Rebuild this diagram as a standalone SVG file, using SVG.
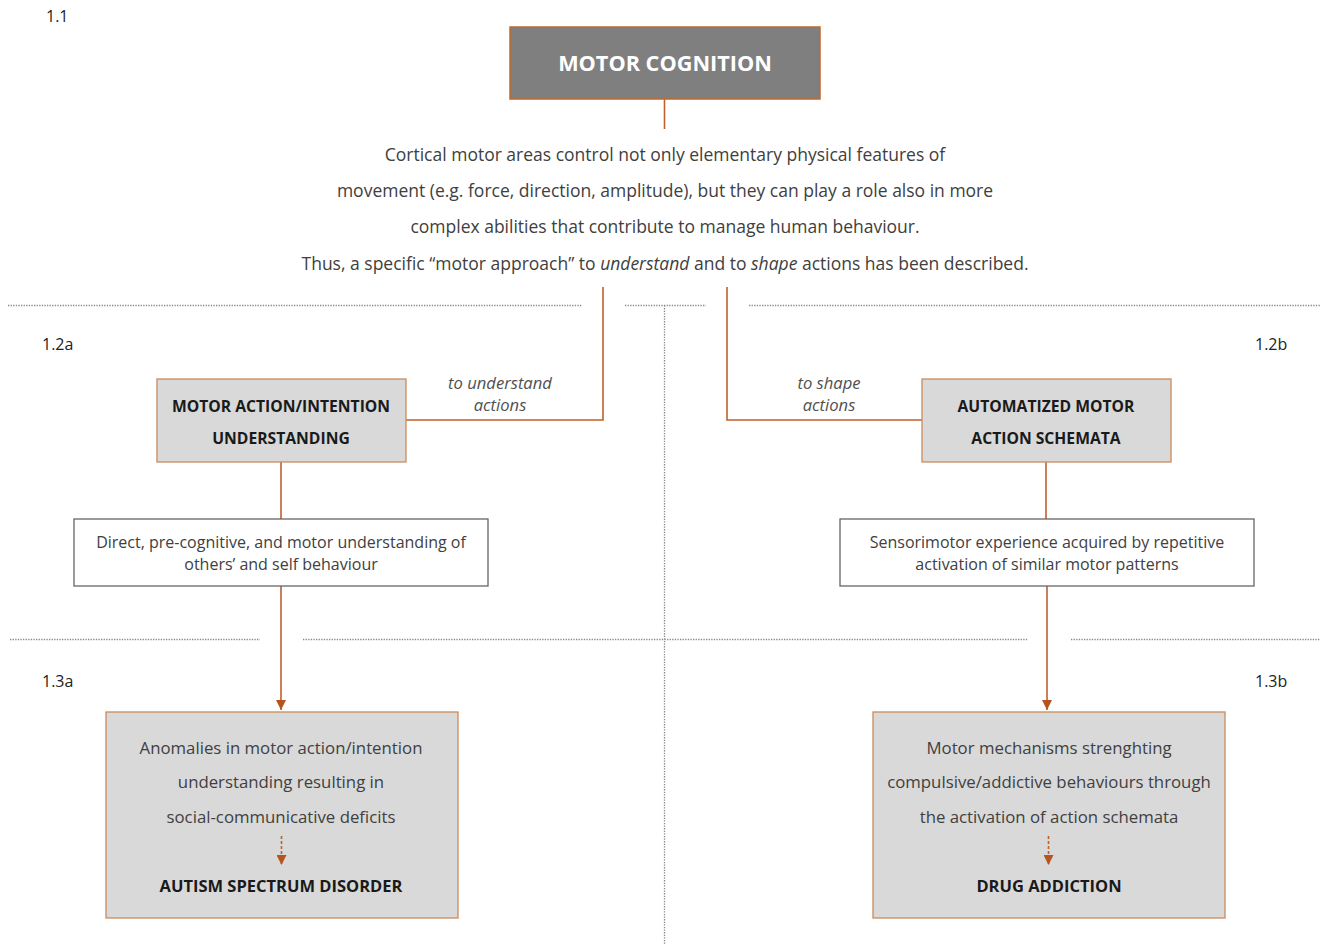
<svg xmlns="http://www.w3.org/2000/svg" width="1322" height="948" viewBox="0 0 1322 948">
<style>
text{font-family:"Open Sans","Noto Sans","Liberation Sans",sans-serif;fill:#404040}
.p{font-size:17.5px;text-anchor:middle}
.q{font-size:16.8px;text-anchor:middle}
.b{font-size:15.7px;font-weight:bold;text-anchor:middle;fill:#1a1a1a}
.bb{font-size:16.5px;font-weight:bold;text-anchor:middle;fill:#1a1a1a}
.i{font-size:16.6px;font-style:italic;text-anchor:middle;fill:#505050}
.lab{font-size:16px;fill:#222}
.s{font-size:16px;text-anchor:middle}
.ln{stroke:#c0602a;stroke-width:1.6;fill:none}
.dot{stroke:#888;stroke-width:1.3;stroke-dasharray:1.3 1.3;fill:none}
.gbox{fill:#d9d9d9;stroke:#c98a5c;stroke-width:1.3}
.wbox{fill:#fff;stroke:#666;stroke-width:1.3}
</style>
<defs>
<marker id="ah" viewBox="0 0 10 10" refX="10" refY="5" markerWidth="10" markerHeight="10" markerUnits="userSpaceOnUse" orient="auto"><path d="M0,0 L10,5 L0,10 z" fill="#b5541b"/></marker>
</defs>
<rect width="1322" height="948" fill="#fff"/>
<g id="dividers">
<path class="dot" d="M8,305.5 H582 M625,305.5 H706 M749,305.5 H1320 M664.5,305.5 V945 M10,639.5 H260 M303,639.5 H1028 M1071,639.5 H1320"/>
</g>
<g id="labels">
<text class="lab" x="46" y="22">1.1</text>
<text class="lab" x="42" y="350">1.2a</text>
<text class="lab" x="1255" y="350">1.2b</text>
<text class="lab" x="42" y="687">1.3a</text>
<text class="lab" x="1255" y="687">1.3b</text>
</g>
<g id="connectors">
<path class="ln" d="M664.5,99 V129"/>
<path class="ln" d="M603,287 V420 H406"/>
<path class="ln" d="M727,287 V420 H922"/>
<path class="ln" d="M281,462 V519"/>
<path class="ln" d="M1046,462 V519"/>
<path class="ln" d="M281,586 V710" marker-end="url(#ah)"/>
<path class="ln" d="M1047,586 V710" marker-end="url(#ah)"/>
<text class="i" x="500" y="389">to understand</text>
<text class="i" x="500" y="411">actions</text>
<text class="i" x="829" y="389">to shape</text>
<text class="i" x="829" y="411">actions</text>
</g>
<g id="motor-cognition">
<rect x="510" y="27" width="310" height="72" fill="#7f7f7f" stroke="#c0692a" stroke-width="1.5"/>
<text x="665" y="71" style="font-size:21.7px;font-weight:bold;text-anchor:middle;fill:#fff">MOTOR COGNITION</text>
</g>
<g id="description">
<text class="p" x="665" y="161">Cortical motor areas control not only elementary physical features of</text>
<text class="p" x="665" y="197">movement (e.g. force, direction, amplitude), but they can play a role also in more</text>
<text class="p" x="665" y="233">complex abilities that contribute to manage human behaviour.</text>
<text class="p" x="665" y="270">Thus, a specific “motor approach” to <tspan font-style="italic">understand</tspan> and to <tspan font-style="italic">shape</tspan> actions has been described.</text>
</g>
<g id="understanding">
<rect class="gbox" x="157" y="379" width="249" height="83"/>
<text class="b" x="281" y="412">MOTOR ACTION/INTENTION</text>
<text class="b" x="281" y="444">UNDERSTANDING</text>
</g>
<g id="schemata">
<rect class="gbox" x="922" y="379" width="249" height="83"/>
<text class="b" x="1046" y="412">AUTOMATIZED MOTOR</text>
<text class="b" x="1046" y="444">ACTION SCHEMATA</text>
</g>
<g id="direct">
<rect class="wbox" x="74" y="519" width="414" height="67"/>
<text class="s" x="281" y="548">Direct, pre-cognitive, and motor understanding of</text>
<text class="s" x="281" y="570">others’ and self behaviour</text>
</g>
<g id="sensorimotor">
<rect class="wbox" x="840" y="519" width="414" height="67"/>
<text class="s" x="1047" y="548">Sensorimotor experience acquired by repetitive</text>
<text class="s" x="1047" y="570">activation of similar motor patterns</text>
</g>
<g id="autism">
<rect class="gbox" x="106" y="712" width="352" height="206"/>
<text class="q" x="281" y="754">Anomalies in motor action/intention</text>
<text class="q" x="281" y="788">understanding resulting in</text>
<text class="q" x="281" y="823">social-communicative deficits</text>
<path class="ln" d="M281.5,836 V865" stroke-dasharray="3 2" stroke-width="1.2" marker-end="url(#ah)"/>
<text class="bb" x="281" y="892">AUTISM SPECTRUM DISORDER</text>
</g>
<g id="addiction">
<rect class="gbox" x="873" y="712" width="352" height="206"/>
<text class="q" x="1049" y="754">Motor mechanisms strenghting</text>
<text class="q" x="1049" y="788">compulsive/addictive behaviours through</text>
<text class="q" x="1049" y="823">the activation of action schemata</text>
<path class="ln" d="M1048.5,836 V865" stroke-dasharray="3 2" stroke-width="1.2" marker-end="url(#ah)"/>
<text class="bb" x="1049" y="892">DRUG ADDICTION</text>
</g>
</svg>
